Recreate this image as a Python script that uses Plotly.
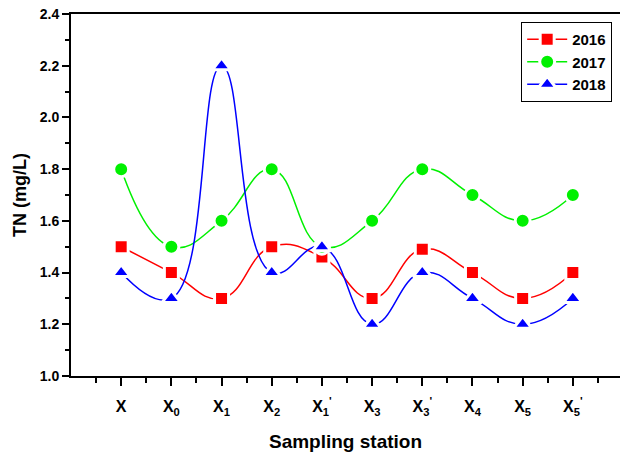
import plotly.graph_objects as go

# Sampling stations (x-axis labels, with subscripts and primes)
stations = ["X", "X<sub>0</sub>", "X<sub>1</sub>", "X<sub>2</sub>", "X<sub>1</sub><sup>'</sup>",
            "X<sub>3</sub>", "X<sub>3</sub><sup>'</sup>", "X<sub>4</sub>", "X<sub>5</sub>",
            "X<sub>5</sub><sup>'</sup>"]

# Total nitrogen (mg/L) per year
tn_2016 = [1.50, 1.40, 1.30, 1.50, 1.46, 1.30, 1.49, 1.40, 1.30, 1.40]
tn_2017 = [1.80, 1.50, 1.60, 1.80, 1.50, 1.60, 1.80, 1.70, 1.60, 1.70]
tn_2018 = [1.40, 1.30, 2.20, 1.40, 1.50, 1.20, 1.40, 1.30, 1.20, 1.30]

pos = list(range(len(stations)))
font_family = "Liberation Sans, Arial, sans-serif"

series = [
    ("2016", tn_2016, "#ff0000", "square", 14),
    ("2017", tn_2017, "#00f000", "circle", 15),
    ("2018", tn_2018, "#0000ff", "triangle-up", 16),
]

fig = go.Figure()
for name, vals, color, symbol, size in series:
    fig.add_trace(go.Scatter(
        x=pos, y=vals, name=name, mode="lines+markers",
        line=dict(color=color, width=1.5, shape="spline", smoothing=1.3),
        # white outline leaves a small gap between the curve and each marker
        marker=dict(color=color, symbol=symbol, size=size,
                    line=dict(color="white", width=3)),
    ))

fig.update_layout(
    width=620, height=456,
    margin=dict(l=71, r=0, t=14, b=80),
    plot_bgcolor="white", paper_bgcolor="white",
    font=dict(family=font_family, color="black"),
    showlegend=True,
    legend=dict(
        x=0.82, y=0.978, xanchor="left", yanchor="top",
        bgcolor="white", bordercolor="black", borderwidth=1,
        font=dict(size=15, family=font_family, weight="bold"),
        itemwidth=40, tracegroupgap=2,
    ),
    xaxis=dict(
        range=[-1, 9.94], tickmode="array", tickvals=pos, ticktext=stations,
        showgrid=False, zeroline=False,
        showline=True, linecolor="black", linewidth=2, mirror=True,
        ticks="outside", ticklen=8, tickwidth=1.5, tickcolor="black",
        ticklabelstandoff=7,
        tickfont=dict(size=16, family=font_family, weight="bold"),
        minor=dict(ticks="outside", tick0=-0.5, dtick=1, ticklen=5,
                   tickwidth=1.5, tickcolor="black"),
        title=dict(text="Sampling station", standoff=18,
                   font=dict(size=19, family=font_family, weight="bold")),
    ),
    yaxis=dict(
        range=[1.0, 2.4], tickmode="linear", tick0=1.0, dtick=0.2,
        tickformat=".1f",
        showgrid=False, zeroline=False,
        showline=True, linecolor="black", linewidth=2,
        ticks="outside", ticklen=7, tickwidth=1.5, tickcolor="black",
        tickfont=dict(size=14, family=font_family, weight="bold"),
        minor=dict(ticks="outside", dtick=0.1, ticklen=4,
                   tickwidth=1.5, tickcolor="black"),
        title=dict(text="TN (mg/L)", standoff=8,
                   font=dict(size=18, family=font_family, weight="bold")),
    ),
)

fig.write_html("out.html")
